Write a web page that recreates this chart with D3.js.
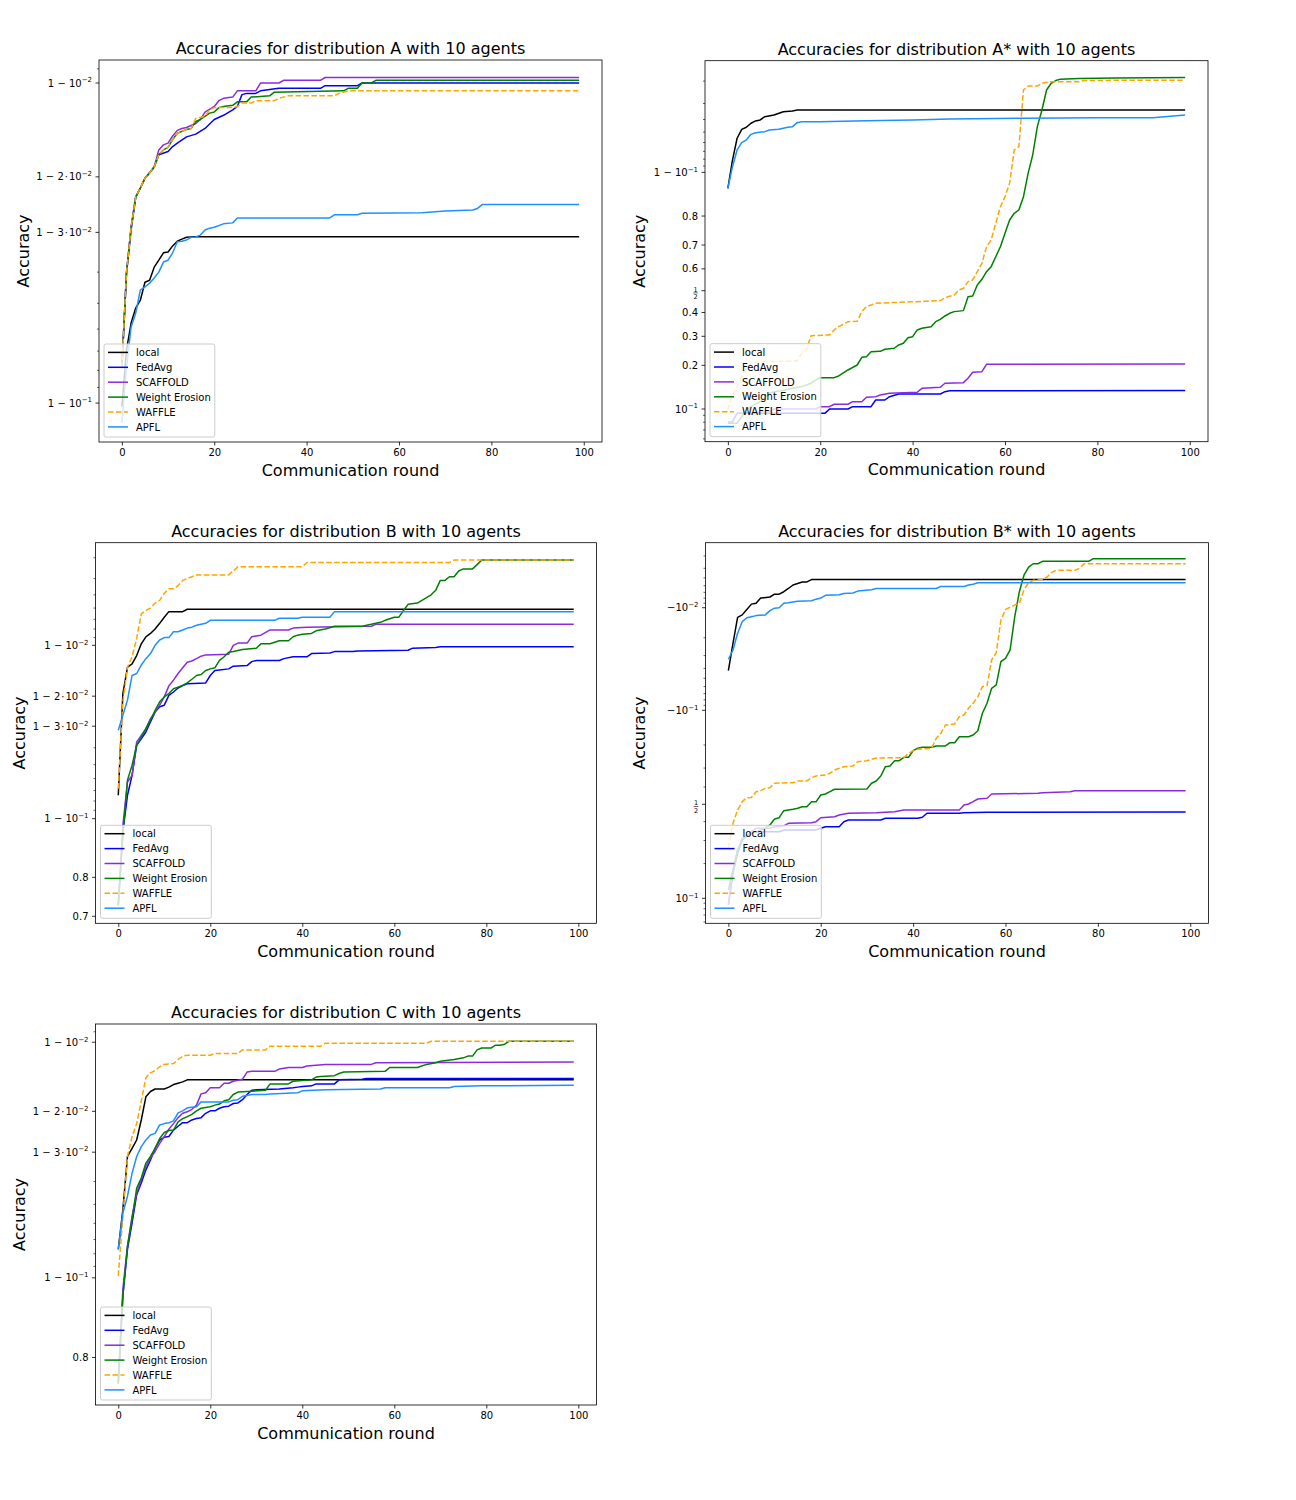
<!DOCTYPE html>
<html>
<head>
<meta charset="utf-8">
<script src="https://cdn.jsdelivr.net/npm/d3@7"></script>
<style>
  body { margin: 0; background: #fff; }
  svg { display: block; font-family: "DejaVu Sans", sans-serif; }
</style>
</head>
<body>
<svg id="chart" width="1296" height="1500"></svg>
<script>
// ---------- data ----------
const methods = ["local", "FedAvg", "SCAFFOLD", "Weight Erosion", "WAFFLE", "APFL"];
const methodColors = ["#000000", "#0000ff", "#8a2be2", "#008000", "#ffa500", "#1e90ff"];
const roundTicks = [0, 20, 40, 60, 80, 100];

// distribution A
const aLocal = [[0,0.8974],[1,0.9305],[2,0.9425],[3,0.9483],[4,0.9511],[5,0.9570],[6,0.9576],[7,0.9614],[8,0.9633],[9,0.9652],[10,0.9654],[11,0.9669],[12,0.9680],[13,0.9685],[14,0.9689],[15,0.9690],[99,0.9690]];
const aFedAvg = [[0,0.9212],[1,0.9597],[2,0.9705],[3,0.9768],[4,0.9783],[5,0.9798],[6,0.9806],[7,0.9814],[8,0.9830],[10,0.9834],[11,0.9840],[12,0.9844],[14,0.9851],[16,0.9854],[18,0.9860],[20,0.9869],[22,0.9873],[24,0.9878],[25,0.9881],[26,0.9891],[27,0.9892],[29,0.9892],[30,0.9894],[34,0.9896],[43,0.9896],[44,0.9898],[51,0.9898],[52,0.9900],[99,0.9900]];
const aScaffold = [[0,0.9212],[1,0.9597],[2,0.9711],[3,0.9768],[4,0.9783],[5,0.9798],[6,0.9806],[7,0.9814],[8,0.9836],[9,0.9842],[10,0.9844],[11,0.9852],[12,0.9858],[13,0.9860],[14,0.9861],[16,0.9865],[17,0.9869],[18,0.9876],[20,0.9881],[21,0.9886],[22,0.9888],[24,0.9889],[25,0.9894],[29,0.9894],[30,0.9900],[34,0.9900],[35,0.9902],[43,0.9902],[44,0.9904],[99,0.9904]];
const aErosion = [[0,0.9212],[1,0.9597],[2,0.9711],[3,0.9768],[4,0.9783],[5,0.9798],[6,0.9806],[7,0.9814],[8,0.9830],[9,0.9836],[10,0.9839],[11,0.9848],[12,0.9855],[13,0.9857],[14,0.9859],[15,0.9860],[16,0.9867],[17,0.9869],[18,0.9872],[19,0.9875],[20,0.9876],[21,0.9880],[22,0.9881],[24,0.9882],[25,0.9885],[27,0.9885],[28,0.9889],[32,0.9890],[33,0.9893],[48,0.9894],[49,0.9896],[51,0.9896],[52,0.9900],[54,0.9900],[55,0.9902],[99,0.9902]];
const aWaffle = [[0,0.9212],[1,0.9597],[2,0.9711],[3,0.9768],[4,0.9783],[5,0.9798],[6,0.9806],[7,0.9814],[8,0.9830],[9,0.9836],[10,0.9839],[11,0.9848],[12,0.9855],[13,0.9857],[14,0.9859],[15,0.9860],[16,0.9870],[18,0.9872],[19,0.9878],[20,0.9880],[24,0.9880],[25,0.9881],[26,0.9884],[28,0.9884],[29,0.9886],[33,0.9886],[34,0.9888],[36,0.9890],[46,0.9890],[47,0.9892],[49,0.9894],[99,0.9894]];
const aApfl = [[0,0.8857],[1,0.9217],[2,0.9409],[3,0.9464],[4,0.9545],[5,0.9555],[6,0.9567],[7,0.9583],[8,0.9600],[9,0.9628],[10,0.9633],[11,0.9652],[12,0.9679],[13,0.9680],[14,0.9683],[15,0.9689],[16,0.9690],[17,0.9694],[18,0.9705],[19,0.9709],[20,0.9711],[22,0.9718],[24,0.9720],[25,0.9730],[45,0.9730],[46,0.9736],[51,0.9736],[52,0.9739],[65,0.9740],[70,0.9743],[73,0.9744],[76,0.9745],[77,0.9748],[78,0.9755],[99,0.9755]];

// distribution A*
const asLocal = [[0,0.8701],[1,0.9188],[2,0.9443],[3,0.9524],[4,0.9541],[5,0.9573],[6,0.9590],[7,0.9597],[8,0.9620],[10,0.9631],[12,0.9652],[14,0.9657],[15,0.9663],[99,0.9663]];
const asFedAvg = [[0,0.0808],[1,0.0808],[2,0.0930],[21,0.0930],[22,0.1000],[26,0.1000],[27,0.1040],[31,0.1040],[32,0.1161],[34,0.1161],[35,0.1226],[37,0.1281],[46,0.1281],[47,0.1329],[48,0.1350],[99,0.1354]];
const asScaffold = [[0,0.0808],[1,0.0808],[2,0.0930],[9,0.0957],[10,0.1000],[19,0.1000],[20,0.1040],[22,0.1040],[23,0.1082],[26,0.1082],[27,0.1129],[29,0.1129],[30,0.1213],[32,0.1226],[33,0.1261],[35,0.1296],[41,0.1317],[42,0.1403],[46,0.1426],[47,0.1519],[51,0.1535],[52,0.1643],[53,0.1801],[55,0.1818],[56,0.2032],[99,0.2040]];
const asErosion = [[0,0.0786],[2,0.0786],[3,0.0879],[4,0.0984],[5,0.1040],[7,0.1129],[9,0.1296],[10,0.1329],[12,0.1354],[14,0.1403],[16,0.1442],[18,0.1519],[19,0.1600],[20,0.1659],[23,0.1659],[24,0.1703],[26,0.1866],[28,0.2010],[29,0.2251],[30,0.2270],[31,0.2437],[33,0.2449],[34,0.2521],[36,0.2556],[37,0.2674],[38,0.2735],[39,0.2948],[40,0.2986],[41,0.3254],[42,0.3322],[44,0.3388],[45,0.3600],[46,0.3702],[47,0.3847],[48,0.3966],[49,0.4040],[51,0.4085],[52,0.4722],[53,0.4753],[54,0.5264],[55,0.5528],[56,0.5873],[57,0.6096],[58,0.6527],[59,0.6936],[60,0.7438],[61,0.7880],[62,0.8081],[63,0.8173],[64,0.8514],[65,0.8984],[66,0.9255],[67,0.9546],[68,0.9663],[69,0.9765],[70,0.9792],[71,0.9802],[72,0.9807],[76,0.9809],[84,0.9811],[99,0.9813]];
const asWaffle = [[0,0.0984],[1,0.1261],[2,0.1442],[3,0.1684],[4,0.1914],[5,0.2062],[7,0.2110],[15,0.2132],[16,0.2383],[17,0.2497],[18,0.3024],[22,0.3053],[23,0.3254],[24,0.3388],[26,0.3600],[28,0.3614],[29,0.4040],[30,0.4263],[32,0.4418],[40,0.4489],[46,0.4536],[47,0.4675],[49,0.4800],[50,0.5032],[51,0.5112],[52,0.5418],[53,0.5496],[54,0.5873],[55,0.6246],[56,0.6936],[57,0.7194],[58,0.7776],[59,0.8263],[60,0.8514],[61,0.8802],[62,0.9317],[63,0.9355],[64,0.9765],[65,0.9781],[67,0.9781],[68,0.9792],[70,0.9798],[76,0.9798],[77,0.9802],[82,0.9802],[83,0.9803],[99,0.9803]];
const asApfl = [[0,0.8701],[1,0.9091],[2,0.9317],[3,0.9398],[4,0.9426],[5,0.9480],[6,0.9495],[8,0.9504],[9,0.9519],[11,0.9524],[12,0.9533],[13,0.9541],[14,0.9546],[15,0.9577],[16,0.9584],[20,0.9584],[30,0.9592],[40,0.9597],[48,0.9604],[64,0.9609],[80,0.9613],[92,0.9613],[99,0.9631]];

// distribution B
const bLocal = [[0,0.9256],[1,0.9807],[2,0.9865],[3,0.9871],[4,0.9885],[5,0.9902],[6,0.9911],[7,0.9915],[8,0.9920],[9,0.9926],[10,0.9932],[11,0.9937],[14,0.9937],[15,0.9939],[99,0.9939]];
const bFedAvg = [[0,0.7310],[1,0.8822],[2,0.9256],[3,0.9425],[4,0.9613],[5,0.9645],[6,0.9676],[7,0.9717],[8,0.9752],[9,0.9769],[10,0.9774],[11,0.9802],[12,0.9811],[13,0.9821],[14,0.9827],[15,0.9831],[19,0.9833],[20,0.9849],[21,0.9859],[22,0.9860],[24,0.9862],[25,0.9867],[28,0.9868],[29,0.9875],[30,0.9877],[35,0.9877],[36,0.9880],[38,0.9883],[41,0.9883],[42,0.9888],[46,0.9889],[47,0.9891],[51,0.9891],[52,0.9892],[63,0.9893],[64,0.9896],[69,0.9897],[70,0.9898],[99,0.9898]];
const bScaffold = [[0,0.7310],[1,0.8914],[2,0.9373],[3,0.9425],[4,0.9630],[5,0.9661],[6,0.9690],[7,0.9729],[8,0.9752],[9,0.9774],[10,0.9798],[11,0.9826],[12,0.9839],[13,0.9853],[14,0.9864],[15,0.9874],[16,0.9876],[17,0.9880],[18,0.9884],[19,0.9886],[24,0.9887],[25,0.9900],[26,0.9903],[28,0.9903],[29,0.9911],[30,0.9912],[31,0.9913],[33,0.9919],[37,0.9919],[38,0.9921],[41,0.9922],[55,0.9923],[56,0.9925],[99,0.9925]];
const bErosion = [[0,0.7310],[1,0.8774],[2,0.9387],[3,0.9496],[4,0.9613],[5,0.9653],[6,0.9690],[7,0.9723],[8,0.9758],[9,0.9784],[10,0.9798],[11,0.9807],[12,0.9819],[13,0.9823],[14,0.9827],[15,0.9833],[16,0.9841],[17,0.9849],[18,0.9851],[19,0.9859],[20,0.9862],[21,0.9864],[22,0.9877],[23,0.9883],[24,0.9890],[25,0.9891],[27,0.9894],[30,0.9896],[31,0.9902],[33,0.9902],[34,0.9904],[35,0.9906],[37,0.9906],[38,0.9911],[39,0.9913],[40,0.9914],[42,0.9915],[43,0.9918],[45,0.9920],[47,0.9923],[53,0.9923],[55,0.9925],[57,0.9927],[58,0.9929],[60,0.9932],[61,0.9932],[62,0.9938],[63,0.9943],[65,0.9944],[66,0.9946],[68,0.9950],[69,0.9953],[70,0.9959],[71,0.9959],[72,0.9961],[73,0.9961],[74,0.9964],[75,0.9965],[77,0.9965],[78,0.9967],[79,0.9969],[99,0.9969]];
const bWaffle = [[0,0.9317],[1,0.9784],[2,0.9865],[3,0.9883],[4,0.9909],[5,0.9935],[6,0.9938],[7,0.9940],[8,0.9944],[9,0.9946],[10,0.9951],[11,0.9954],[12,0.9954],[13,0.9956],[14,0.9959],[15,0.9960],[16,0.9961],[17,0.9962],[24,0.9962],[25,0.9964],[26,0.9966],[40,0.9966],[41,0.9968],[72,0.9968],[73,0.9969],[99,0.9969]];
const bApfl = [[0,0.9683],[1,0.9741],[2,0.9789],[3,0.9849],[4,0.9853],[5,0.9869],[6,0.9880],[7,0.9888],[8,0.9900],[9,0.9907],[10,0.9910],[11,0.9910],[12,0.9917],[13,0.9917],[14,0.9919],[15,0.9921],[16,0.9922],[17,0.9924],[18,0.9925],[19,0.9926],[20,0.9929],[34,0.9929],[35,0.9931],[39,0.9931],[40,0.9932],[46,0.9932],[47,0.9937],[99,0.9937]];

// distribution B*
const bsLocal = [[0,0.9579],[1,0.9773],[2,0.9875],[3,0.9882],[4,0.9896],[5,0.9908],[6,0.9910],[7,0.9920],[9,0.9922],[10,0.9927],[11,0.9927],[12,0.9931],[13,0.9936],[14,0.9941],[15,0.9943],[16,0.9945],[17,0.9945],[18,0.9948],[99,0.9948]];
const bsFedAvg = [[0,0.0868],[1,0.1662],[2,0.2413],[3,0.3027],[4,0.3279],[5,0.3368],[6,0.3451],[11,0.3451],[12,0.3541],[19,0.3541],[20,0.3633],[21,0.3720],[24,0.3720],[25,0.3997],[26,0.4093],[33,0.4093],[34,0.4189],[41,0.4189],[42,0.4246],[43,0.4476],[50,0.4476],[51,0.4510],[56,0.4533],[99,0.4551]];
const bsScaffold = [[0,0.0868],[1,0.1772],[2,0.2557],[3,0.3111],[4,0.3228],[5,0.3451],[6,0.3633],[9,0.3633],[10,0.3720],[12,0.3758],[13,0.3907],[18,0.3941],[19,0.3997],[20,0.4223],[23,0.4281],[24,0.4378],[26,0.4476],[32,0.4510],[36,0.4569],[38,0.4667],[50,0.4667],[51,0.4960],[52,0.5018],[53,0.5152],[54,0.5310],[56,0.5351],[57,0.5599],[67,0.5639],[68,0.5673],[74,0.5731],[75,0.5789],[99,0.5789]];
const bsErosion = [[0,0.1189],[1,0.1772],[2,0.2557],[3,0.3027],[4,0.3228],[5,0.3368],[6,0.3435],[7,0.3541],[8,0.3649],[9,0.3813],[10,0.4149],[11,0.4223],[12,0.4627],[13,0.4667],[14,0.4708],[15,0.4766],[16,0.4860],[17,0.4860],[18,0.5152],[19,0.5152],[20,0.5542],[21,0.5599],[22,0.5731],[23,0.5868],[30,0.5884],[31,0.6204],[32,0.6329],[33,0.6597],[34,0.7066],[35,0.7100],[36,0.7348],[37,0.7348],[38,0.7500],[39,0.7500],[40,0.7778],[41,0.7874],[42,0.7912],[44,0.7912],[45,0.7963],[47,0.7963],[48,0.8085],[49,0.8085],[50,0.8293],[52,0.8293],[53,0.8348],[54,0.8482],[55,0.8935],[56,0.9138],[57,0.9377],[58,0.9421],[59,0.9656],[60,0.9681],[61,0.9736],[62,0.9877],[63,0.9931],[64,0.9953],[65,0.9961],[66,0.9964],[67,0.9964],[68,0.9966],[78,0.9966],[79,0.9968],[99,0.9968]];
const bsWaffle = [[0,0.2634],[1,0.3907],[2,0.4667],[3,0.5152],[4,0.5386],[5,0.5400],[6,0.5731],[7,0.5789],[8,0.5924],[9,0.5958],[10,0.6204],[14,0.6237],[15,0.6329],[17,0.6335],[18,0.6507],[19,0.6597],[21,0.6649],[22,0.6736],[23,0.6903],[24,0.6988],[25,0.7066],[27,0.7100],[28,0.7302],[30,0.7348],[31,0.7411],[32,0.7470],[38,0.7482],[39,0.7672],[40,0.7778],[41,0.7834],[44,0.7874],[45,0.8239],[46,0.8402],[47,0.8646],[49,0.8673],[50,0.8857],[51,0.8897],[52,0.9042],[53,0.9138],[54,0.9252],[55,0.9399],[56,0.9412],[57,0.9669],[58,0.9719],[59,0.9867],[60,0.9896],[61,0.9901],[62,0.9906],[63,0.9910],[64,0.9934],[65,0.9944],[66,0.9947],[68,0.9948],[69,0.9951],[70,0.9956],[71,0.9958],[75,0.9958],[76,0.9960],[77,0.9964],[99,0.9964]];
const bsApfl = [[0,0.9674],[1,0.9736],[2,0.9820],[3,0.9862],[4,0.9874],[5,0.9877],[6,0.9880],[8,0.9882],[9,0.9893],[10,0.9899],[11,0.9900],[12,0.9910],[13,0.9911],[15,0.9914],[18,0.9915],[19,0.9918],[20,0.9920],[21,0.9925],[24,0.9926],[25,0.9928],[27,0.9929],[28,0.9932],[31,0.9934],[32,0.9936],[45,0.9936],[46,0.9939],[51,0.9939],[52,0.9941],[53,0.9942],[54,0.9944],[99,0.9944]];

// distribution C
const cLocal = [[0,0.9232],[1,0.9474],[2,0.9687],[3,0.9711],[4,0.9734],[5,0.9782],[6,0.9827],[7,0.9836],[8,0.9840],[10,0.9840],[11,0.9843],[12,0.9847],[13,0.9849],[14,0.9851],[15,0.9854],[99,0.9854]];
const cFedAvg = [[0,0.7542],[1,0.8824],[2,0.9232],[3,0.9403],[4,0.9545],[5,0.9594],[6,0.9643],[7,0.9676],[8,0.9711],[9,0.9734],[10,0.9741],[11,0.9743],[12,0.9759],[13,0.9768],[14,0.9776],[15,0.9776],[16,0.9782],[17,0.9785],[18,0.9787],[19,0.9796],[20,0.9801],[21,0.9801],[22,0.9806],[23,0.9809],[24,0.9810],[25,0.9815],[26,0.9816],[27,0.9822],[28,0.9831],[29,0.9838],[30,0.9839],[35,0.9840],[38,0.9842],[39,0.9843],[40,0.9844],[42,0.9845],[43,0.9848],[47,0.9848],[48,0.9854],[53,0.9855],[54,0.9856],[99,0.9856]];
const cScaffold = [[0,0.7542],[1,0.8892],[2,0.9256],[3,0.9440],[4,0.9552],[5,0.9607],[6,0.9655],[7,0.9682],[8,0.9702],[9,0.9725],[10,0.9743],[11,0.9761],[12,0.9774],[13,0.9787],[14,0.9796],[15,0.9799],[16,0.9804],[17,0.9812],[18,0.9832],[19,0.9834],[20,0.9842],[22,0.9842],[23,0.9849],[24,0.9849],[25,0.9852],[27,0.9855],[28,0.9865],[29,0.9866],[34,0.9866],[35,0.9869],[37,0.9871],[40,0.9871],[41,0.9873],[45,0.9875],[55,0.9875],[56,0.9877],[99,0.9878]];
const cErosion = [[0,0.7542],[1,0.8824],[2,0.9256],[3,0.9422],[4,0.9573],[5,0.9613],[6,0.9666],[7,0.9687],[8,0.9711],[9,0.9738],[10,0.9753],[11,0.9758],[12,0.9759],[13,0.9778],[14,0.9785],[15,0.9789],[16,0.9794],[17,0.9801],[18,0.9806],[20,0.9809],[21,0.9812],[22,0.9814],[23,0.9820],[24,0.9822],[25,0.9831],[26,0.9835],[28,0.9836],[32,0.9838],[33,0.9848],[37,0.9848],[38,0.9852],[42,0.9854],[43,0.9858],[44,0.9859],[47,0.9860],[48,0.9863],[49,0.9865],[58,0.9866],[59,0.9871],[65,0.9871],[67,0.9875],[69,0.9877],[70,0.9879],[73,0.9881],[75,0.9883],[76,0.9885],[77,0.9885],[78,0.9892],[79,0.9894],[81,0.9894],[82,0.9897],[83,0.9897],[84,0.9898],[85,0.9901],[99,0.9901]];
const cWaffle = [[0,0.9018],[1,0.9440],[2,0.9687],[3,0.9743],[4,0.9774],[5,0.9820],[6,0.9857],[7,0.9864],[8,0.9867],[9,0.9872],[10,0.9875],[12,0.9876],[13,0.9881],[14,0.9885],[15,0.9886],[20,0.9886],[21,0.9888],[26,0.9888],[27,0.9892],[32,0.9892],[33,0.9896],[44,0.9896],[45,0.9899],[67,0.9899],[68,0.9901],[99,0.9901]];
const cApfl = [[0,0.9232],[1,0.9457],[2,0.9538],[3,0.9631],[4,0.9687],[5,0.9716],[6,0.9734],[7,0.9747],[8,0.9751],[9,0.9771],[10,0.9774],[11,0.9776],[12,0.9780],[13,0.9797],[14,0.9801],[15,0.9807],[17,0.9809],[18,0.9818],[24,0.9818],[25,0.9821],[26,0.9822],[27,0.9828],[29,0.9831],[32,0.9831],[33,0.9832],[39,0.9834],[40,0.9837],[45,0.9839],[57,0.9840],[58,0.9842],[72,0.9842],[73,0.9844],[79,0.9845],[99,0.9846]];

// y tick labels (logit axis), "^" marks the exponent
const ticksA  = [[0.99, "1 − 10^−2"], [0.98, "1 − 2\u200a·\u200a10^−2"], [0.97, "1 − 3\u200a·\u200a10^−2"], [0.9, "1 − 10^−1"]];
const ticksAs = [[0.9, "1 − 10^−1"], [0.8, "0.8"], [0.7, "0.7"], [0.6, "0.6"], [0.5, "1/2"], [0.4, "0.4"], [0.3, "0.3"], [0.2, "0.2"], [0.1, "10^−1"]];
const ticksB  = [[0.99, "1 − 10^−2"], [0.98, "1 − 2\u200a·\u200a10^−2"], [0.97, "1 − 3\u200a·\u200a10^−2"], [0.9, "1 − 10^−1"], [0.8, "0.8"], [0.7, "0.7"]];
const ticksBs = [[0.99, "−10^−2"], [0.9, "−10^−1"], [0.5, "1/2"], [0.1, "10^−1"]];
const ticksC  = [[0.99, "1 − 10^−2"], [0.98, "1 − 2\u200a·\u200a10^−2"], [0.97, "1 − 3\u200a·\u200a10^−2"], [0.9, "1 − 10^−1"], [0.8, "0.8"]];

const minorA  = [0.991, 0.96, 0.95, 0.94, 0.93, 0.92, 0.91];
const minorAs = [0.98, 0.97, 0.96, 0.95, 0.94, 0.93, 0.92, 0.91, 0.09, 0.08, 0.07, 0.06];
const minorB  = [0.997, 0.996, 0.995, 0.994, 0.993, 0.992, 0.991, 0.96, 0.95, 0.94, 0.93, 0.92, 0.91];
const minorBs = [0.997, 0.996, 0.995, 0.994, 0.993, 0.992, 0.991, 0.98, 0.97, 0.96, 0.95, 0.94, 0.93, 0.92, 0.91, 0.8, 0.7, 0.6, 0.4, 0.3, 0.2, 0.09, 0.08, 0.07, 0.06];
const minorC  = [0.991, 0.96, 0.95, 0.94, 0.93, 0.92, 0.91];

// ---------- layout ----------
const panels = [
    { id: "A",  title: "Accuracies for distribution A with 10 agents",  box: [99, 60, 503, 382],
      ylim: [0.8705, 0.99157], ticks: ticksA, minor: minorA, ylabelX: 29,
      series: [aLocal, aFedAvg, aScaffold, aErosion, aWaffle, aApfl] },
    { id: "As", title: "Accuracies for distribution A* with 10 agents", box: [705, 60.7, 503, 381],
      ylim: [0.0571, 0.98622], ticks: ticksAs, minor: minorAs, ylabelX: 645,
      series: [asLocal, asFedAvg, asScaffold, asErosion, asWaffle, asApfl] },
    { id: "B",  title: "Accuracies for distribution B with 10 agents",  box: [95.5, 542.7, 501, 380.6],
      ylim: [0.6793, 0.997562], ticks: ticksB, minor: minorB, ylabelX: 24.5,
      series: [bLocal, bFedAvg, bScaffold, bErosion, bWaffle, bApfl] },
    { id: "Bs", title: "Accuracies for distribution B* with 10 agents", box: [705.5, 542.7, 503, 380.6],
      ylim: [0.0583, 0.997796], ticks: ticksBs, minor: minorBs, ylabelX: 645,
      series: [bsLocal, bsFedAvg, bsScaffold, bsErosion, bsWaffle, bsApfl] },
    { id: "C",  title: "Accuracies for distribution C with 10 agents",  box: [95.5, 1024, 501, 381],
      ylim: [0.7115, 0.99168], ticks: ticksC, minor: minorC, ylabelX: 24.5,
      series: [cLocal, cFedAvg, cScaffold, cErosion, cWaffle, cApfl] }
];

const svg = d3.select("#chart");
const logit = p => Math.log10(p / (1 - p));

function tickLabel(g, label, yPos) {
    if (label === "1/2") {
        const f = g.append("g").attr("transform", `translate(-9.5,${yPos})`);
        f.append("text").attr("y", 0.8).attr("text-anchor", "middle").attr("font-size", 6.5).text("1");
        f.append("line").attr("x1", -2.3).attr("x2", 2.3).attr("y1", 2.2).attr("y2", 2.2)
            .attr("stroke", "#000").attr("stroke-width", 0.6);
        f.append("text").attr("y", 8.6).attr("text-anchor", "middle").attr("font-size", 6.5).text("2");
        return;
    }
    const parts = label.split("^");
    const t = g.append("text").attr("x", -7).attr("y", yPos + 3.5)
        .attr("text-anchor", "end").attr("font-size", 10).attr("fill", "#000");
    t.append("tspan").text(parts[0]);
    if (parts[1]) t.append("tspan").attr("dy", -4.2).attr("font-size", 7).text(parts[1]);
}

function drawPanel(p) {
    const [left, top, w, h] = p.box;
    const g = svg.append("g").attr("transform", `translate(${left},${top})`);

    const x = d3.scaleLinear().domain([-4.95, 103.95]).range([0, w]);
    const y = d3.scaleLinear().domain([logit(p.ylim[0]), logit(p.ylim[1])]).range([h, 0]);
    const yAcc = v => y(logit(v));

    g.append("clipPath").attr("id", "clip" + p.id)
        .append("rect").attr("width", w).attr("height", h);

    const line = d3.line().x(d => x(d[0])).y(d => yAcc(d[1]));

    g.append("g").attr("clip-path", `url(#clip${p.id})`)
        .selectAll("path")
        .data(p.series)
        .join("path")
        .attr("d", line)
        .attr("fill", "none")
        .attr("stroke", (d, i) => methodColors[i])
        .attr("stroke-width", 1.5)
        .attr("stroke-linejoin", "round")
        .attr("stroke-dasharray", (d, i) => methods[i] === "WAFFLE" ? "5.55,2.4" : null);

    // frame
    g.append("rect").attr("width", w).attr("height", h)
        .attr("fill", "none").attr("stroke", "#000").attr("stroke-width", 0.8);

    // x axis
    const xAxis = g.append("g").attr("transform", `translate(0,${h})`)
        .call(d3.axisBottom(x).tickValues(roundTicks).tickSize(3.5).tickPadding(3.5).tickFormat(d3.format("d")));
    xAxis.select(".domain").remove();
    xAxis.attr("font-family", "DejaVu Sans").attr("font-size", 10);
    xAxis.selectAll("line").attr("stroke", "#000").attr("stroke-width", 0.8);
    xAxis.selectAll("text").attr("fill", "#000");

    // y axis, logit scale
    g.append("g").selectAll("line")
        .data(p.minor)
        .join("line")
        .attr("x1", -2).attr("x2", 0)
        .attr("y1", d => yAcc(d)).attr("y2", d => yAcc(d))
        .attr("stroke", "#000").attr("stroke-width", 0.6);

    g.append("g").selectAll("line")
        .data(p.ticks)
        .join("line")
        .attr("x1", -3.5).attr("x2", 0)
        .attr("y1", d => yAcc(d[0])).attr("y2", d => yAcc(d[0]))
        .attr("stroke", "#000").attr("stroke-width", 0.8);

    const yLabels = g.append("g");
    p.ticks.forEach(d => tickLabel(yLabels, d[1], yAcc(d[0])));

    // legend
    const legendH = 93;
    const lg = g.append("g").attr("transform", `translate(5,${h - 5 - legendH})`);
    const box = lg.append("rect")
        .attr("height", legendH).attr("rx", 2)
        .attr("fill", "#fff").attr("fill-opacity", 0.8)
        .attr("stroke", "#cccccc").attr("stroke-width", 1);

    const rows = lg.selectAll("g")
        .data(methods)
        .join("g")
        .attr("transform", (d, i) => `translate(0,${8.4 + i * 14.9})`);
    rows.append("line")
        .attr("x1", 4).attr("x2", 24)
        .attr("stroke", (d, i) => methodColors[i])
        .attr("stroke-width", 1.5)
        .attr("stroke-dasharray", d => d === "WAFFLE" ? "5.55,2.4" : null);
    rows.append("text")
        .attr("x", 32).attr("y", 3.6)
        .attr("font-size", 10).attr("fill", "#000")
        .text(d => d);
    let maxW = 0;
    rows.selectAll("text").each(function () { maxW = Math.max(maxW, this.getComputedTextLength()); });
    box.attr("width", 32 + maxW + 4);

    // titles
    g.append("text").attr("x", w / 2).attr("y", -6)
        .attr("text-anchor", "middle").attr("font-size", 16).attr("fill", "#000")
        .text(p.title);
    g.append("text").attr("x", w / 2).attr("y", h + 33.5)
        .attr("text-anchor", "middle").attr("font-size", 16).attr("fill", "#000")
        .text("Communication round");
    g.append("text")
        .attr("transform", `translate(${p.ylabelX - left},${h / 2}) rotate(-90)`)
        .attr("text-anchor", "middle").attr("font-size", 16).attr("fill", "#000")
        .text("Accuracy");
}

panels.forEach(drawPanel);
</script>
</body>
</html>
